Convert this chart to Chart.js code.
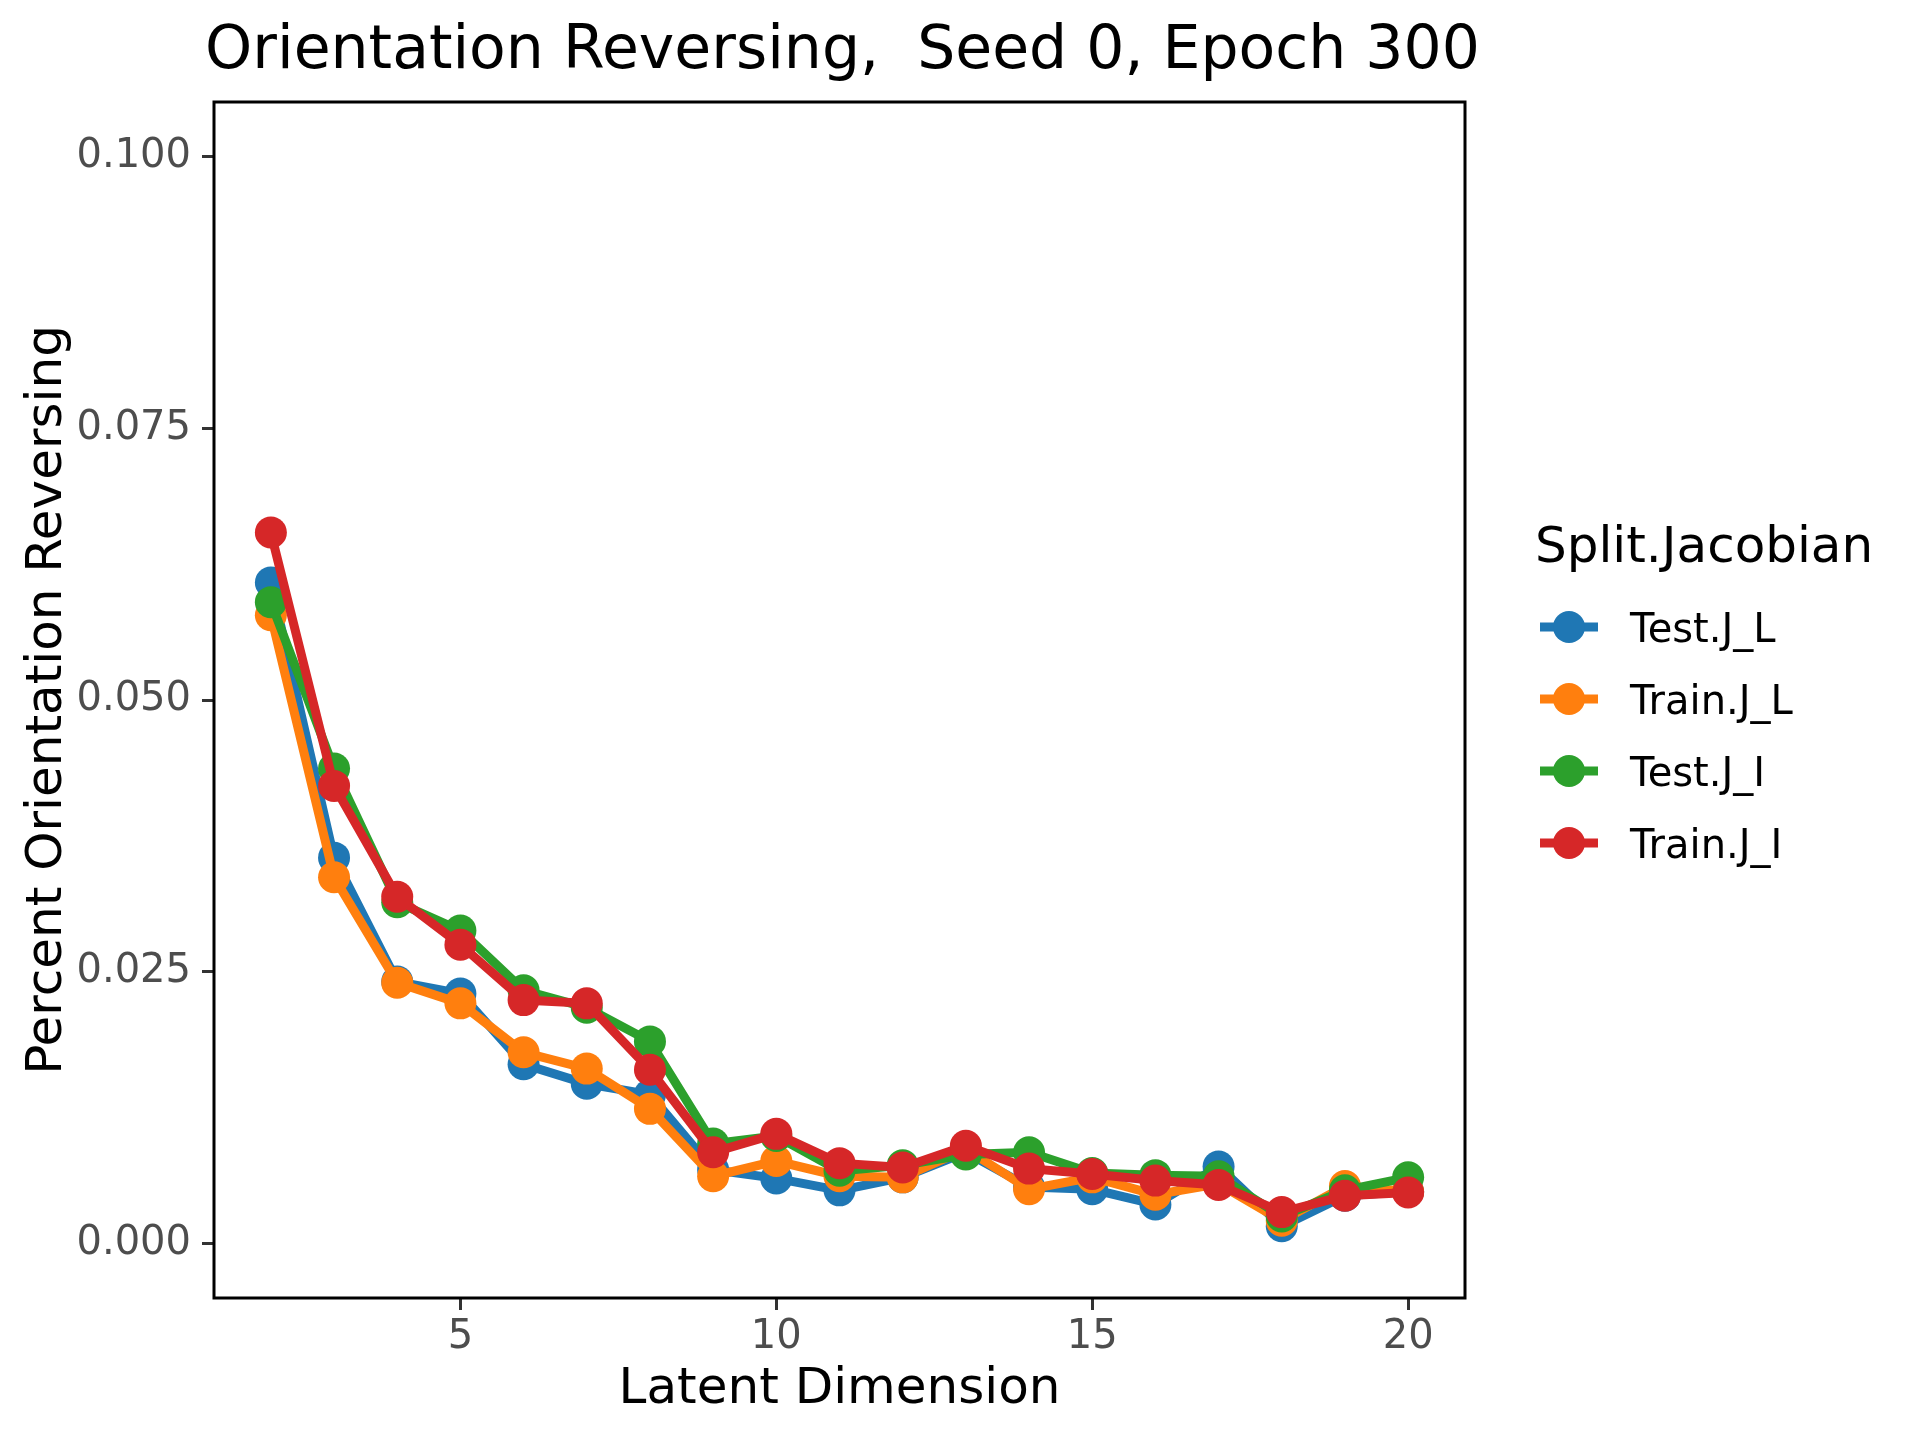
<!DOCTYPE html>
<html>
<head>
<meta charset="utf-8">
<script src="https://cdn.jsdelivr.net/npm/chart.js@4"></script>
<style>
  body{margin:0;background:#fff;}
  #wrap{width:1920px;height:1440px;}
</style>
</head>
<body>
<div id="wrap"><canvas id="chart" width="1920" height="1440"></canvas></div>
<script>
// --- Date ---
const latentDims = [2,3,4,5,6,7,8,9,10,11,12,13,14,15,16,17,18,19,20];
const seriesNames = ['Test.J_L','Train.J_L','Test.J_I','Train.J_I'];
const seriesColors = ['#1f77b4','#ff7f0e','#2ca02c','#d62728'];

const testJL  = [0.0608,0.0355,0.0241,0.0230,0.0165,0.0147,0.0137,0.0068,0.0060,0.0049,0.0061,0.0084,0.0052,0.0050,0.0036,0.0071,0.0016,0.0044,0.0048];
const trainJL = [0.0578,0.0337,0.0240,0.0221,0.0176,0.0161,0.0124,0.0062,0.0076,0.0062,0.0061,0.0087,0.0050,0.0061,0.0045,0.0055,0.0021,0.0053,0.0048];
const testJI  = [0.0590,0.0437,0.0314,0.0288,0.0233,0.0217,0.0186,0.0092,0.0099,0.0067,0.0072,0.0082,0.0084,0.0065,0.0063,0.0062,0.0025,0.0049,0.0061];
const trainJI = [0.0654,0.0421,0.0319,0.0275,0.0224,0.0221,0.0160,0.0084,0.0101,0.0074,0.0070,0.0090,0.0069,0.0064,0.0058,0.0054,0.0029,0.0044,0.0047];

const yTicks = [0, 0.025, 0.05, 0.075, 0.1];
const xTicks = [5, 10, 15, 20];

const FONT = "'DejaVu Sans', sans-serif";

// --- Titlu, chenar si legenda desenate peste chart ---
const extras = {
  id:'extras',
  afterDraw(chart){
    const ctx = chart.ctx, a = chart.chartArea;
    ctx.save();
    // chenar panou
    ctx.strokeStyle = '#000';
    ctx.lineWidth = 3;
    ctx.strokeRect(a.left, a.top, a.right - a.left, a.bottom - a.top);

    // titlu
    ctx.fillStyle = '#000';
    ctx.textAlign = 'center';
    ctx.textBaseline = 'alphabetic';
    ctx.font = '60px ' + FONT;
    ctx.fillText('Orientation Reversing,  Seed 0, Epoch 300', (a.left + a.right) / 2 + 3, 68);

    // legenda
    ctx.textAlign = 'left';
    ctx.font = '50px ' + FONT;
    ctx.fillText('Split.Jacobian', 1535, 562);
    ctx.font = '40px ' + FONT;
    seriesNames.forEach((n, i) => {
      const cy = 627 + i * 72;
      ctx.strokeStyle = seriesColors[i];
      ctx.lineWidth = 9;
      ctx.beginPath();
      ctx.moveTo(1540, cy);
      ctx.lineTo(1598, cy);
      ctx.stroke();
      ctx.fillStyle = seriesColors[i];
      ctx.beginPath();
      ctx.arc(1569, cy, 16, 0, Math.PI * 2);
      ctx.fill();
      ctx.fillStyle = '#000';
      ctx.fillText(n, 1630, cy + 14.5);
    });
    ctx.restore();
  }
};

// --- Chart ---
const allSeries = [testJL, trainJL, testJI, trainJI];
const datasets = allSeries.map((vals, i) => ({
  label: seriesNames[i],
  data: latentDims.map((d, j) => ({x: d, y: vals[j]})),
  borderColor: seriesColors[i],
  backgroundColor: seriesColors[i],
  borderWidth: 9,
  pointRadius: 16,
  pointBorderWidth: 0,
  pointHoverRadius: 16,
  tension: 0,
  order: allSeries.length - i   // rosu deasupra
}));

new Chart(document.getElementById('chart'), {
  type: 'line',
  data: {datasets},
  options: {
    responsive: false,
    animation: false,
    devicePixelRatio: 1,
    layout: {padding: {top: 102, right: 455, bottom: 0, left: 0}},
    plugins: {legend: {display: false}, tooltip: {enabled: false}, title: {display: false}},
    scales: {
      x: {
        type: 'linear',
        min: 1.1, max: 20.9,
        afterBuildTicks: s => { s.ticks = xTicks.map(v => ({value: v})); },
        afterFit: s => { s.height = 142; },
        grid: {drawOnChartArea: false, drawTicks: true, tickLength: 12, tickWidth: 3, tickColor: '#333333'},
        border: {display: false},
        ticks: {color: '#4d4d4d', font: {family: FONT, size: 40}, padding: 4, maxRotation: 0},
        title: {display: true, text: 'Latent Dimension', color: '#000', font: {family: FONT, size: 50}, padding: {top: 0, bottom: 20}}
      },
      y: {
        min: -0.005, max: 0.105,
        afterBuildTicks: s => { s.ticks = yTicks.map(v => ({value: v})); },
        afterFit: s => { s.width = 214; },
        grid: {drawOnChartArea: false, drawTicks: true, tickLength: 12, tickWidth: 3, tickColor: '#333333'},
        border: {display: false},
        ticks: {color: '#4d4d4d', font: {family: FONT, size: 40}, padding: 11, callback: v => v.toFixed(3)},
        title: {display: true, text: 'Percent Orientation Reversing', color: '#000', font: {family: FONT, size: 50}, padding: {top: 18, bottom: 0}}
      }
    }
  },
  plugins: [extras]
});
</script>
</body>
</html>
